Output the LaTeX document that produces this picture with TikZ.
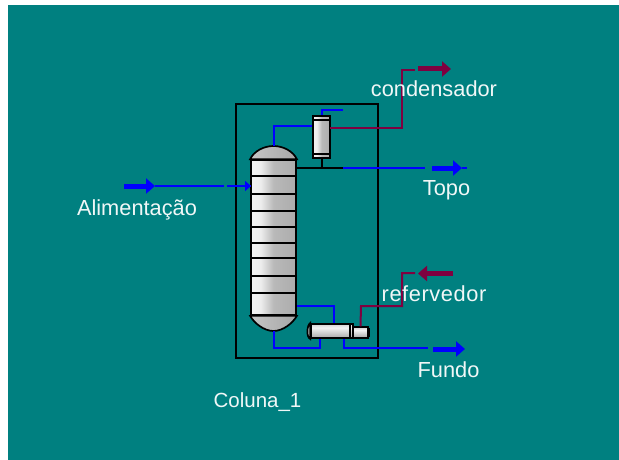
\documentclass[tikz,border=0pt]{standalone}
\usepackage{fontspec}
\setmainfont{Liberation Sans}
\usetikzlibrary{arrows.meta, calc}
\definecolor{fundo}{HTML}{008080}
\definecolor{corrente}{HTML}{0000FF}
\definecolor{utilidade}{HTML}{7F0040}
\pgfdeclarehorizontalshading{vaso}{100bp}{
  color(0bp)=(gray!75); color(22bp)=(white!92!gray); color(36bp)=(white!85!gray);
  color(50bp)=(gray!55); color(75bp)=(gray!65); color(100bp)=(gray!110!black)}
\pgfdeclareverticalshading{trocador}{100bp}{
  color(0bp)=(gray!70); color(30bp)=(gray!60); color(62bp)=(white!90!gray);
  color(100bp)=(gray!80)}
\tikzset{
  vessel/.style={rectangle, draw=black, line width=1.7pt, shading=vaso, inner sep=0pt},
  dome/.style={draw=black, line width=1.7pt, left color=gray!45, right color=gray!70},
  trayline/.style={draw=black, line width=1.7pt},
  hxbody/.style={rectangle, draw=black, line width=1.7pt, shading=trocador, inner sep=0pt},
  hxend/.style={draw=black, line width=1.7pt, fill=gray!40},
  blocobox/.style={rectangle, draw=black, line width=1.7pt, inner sep=0pt},
  procline/.style={draw=corrente, line width=2pt},
  utilline/.style={draw=utilidade, line width=2pt},
  liqline/.style={draw=black, line width=2pt},
  procarr/.style={draw=corrente, line width=5pt, -{Triangle[length=9pt, width=15pt]}},
  utilarr/.style={draw=utilidade, line width=5pt, -{Triangle[length=9pt, width=15pt]}},
  feedarr/.style={draw=corrente, line width=2.6pt, -{Triangle[length=6pt, width=10pt]}},
  lbl/.style={text=white!94!fundo, font=\fontsize{21.8}{25}\selectfont, anchor=base, inner sep=0pt},
}

\begin{document}
\begin{tikzpicture}[x=1pt, y=-1pt]

\useasboundingbox (0,0) rectangle (619,460);
\fill[white] (0,0) rectangle (619,460);
\fill[fundo] (8,5) rectangle (619,460);

\node[blocobox, minimum width=142.5pt, minimum height=254pt] (bloco) at (307,231) {};

\coordinate (domeTop) at (273.5,146);
\coordinate (domeBot) at (273.5,331);

% coluna
\node[vessel, minimum width=45pt, minimum height=155pt] (col) at (273.5,237.5) {};
\draw[dome] (col.north west) .. controls (254,151) and (264,146) .. (domeTop)
  .. controls (283,146) and (293,151) .. (col.north east) -- cycle;
\draw[dome] (col.south west) .. controls (254,323) and (264,331) .. (domeBot)
  .. controls (283,331) and (293,323) .. (col.south east) -- cycle;
\foreach \y in {176,194,211,227,243,258,276,293}{
  \draw[trayline] (col.west |- 0,\y) -- (col.east |- 0,\y);
}

% condensador
\node[hxbody, shading=vaso, minimum width=17pt, minimum height=42pt] (cond) at (321.7,137) {};
\draw[trayline] (313.2,120) -- (330.2,120);
\draw[trayline] (313.2,154) -- (330.2,154);

% refervedor
\node[hxbody, minimum width=42pt, minimum height=14pt] (ref) at (332,331) {};
\draw[hxend] (ref.north west) .. controls (307,325) and (306,337) .. (ref.south west) -- cycle;
\node[hxbody, minimum width=15pt, minimum height=10.5pt] (refcab) at (360.5,332.5) {};
\draw[line width=3pt] (368.5,328) -- (368.5,337);
\draw[trayline] (350,324) -- (350,338);

\coordinate (feedA) at (124,186);
\coordinate (feedB) at (155,186);
\coordinate (feedC) at (224,186);
\coordinate (feedD) at (227,186);
\coordinate (feedE) at (237,186);
\coordinate (feedF) at (251,186);

\coordinate (topA) at (273.5,126);
\coordinate (topB) at (343,168);
\coordinate (topC) at (425,168);
\coordinate (topD) at (432,168);
\coordinate (topE) at (462,168);
\coordinate (topF) at (467,168);
\coordinate (ventA) at (321.7,110);
\coordinate (ventB) at (343,110);
\coordinate (condOut) at (330,128.3);
\coordinate (cutA) at (415,70);
\coordinate (cutB) at (418,69);
\coordinate (cutC) at (451,69);

\coordinate (botA) at (273.5,348);
\coordinate (botB) at (320,348);
\coordinate (botC) at (344,348);
\coordinate (botD) at (428,348);
\coordinate (botE) at (433,349);
\coordinate (botF) at (465,349);
\coordinate (retA) at (334,306);
\coordinate (rebA) at (402,273);
\coordinate (rebB) at (415,273);
\coordinate (rebC) at (453,273.5);
\coordinate (rebD) at (418,273.5);

% correntes
\draw[procline] (feedB) -- (feedC);
\draw[procline] (feedD) -- (feedF);
\draw[procarr] (feedA) -- (feedB);
\draw[feedarr] (feedE) -- (feedF);

\draw[procline] (domeTop) -- (topA) -- (cond.west |- topA);
\draw[liqline] (col.east |- topB) -- (topB);
\draw[liqline] (cond.south) -- (cond.south |- topB);
\draw[procline] (topB) -- (topC);
\draw[procarr] (topD) -- (topE);
\draw[procline] (topE) -- (topF);
\draw[procline] (cond.north) -- (ventA) -- (ventB);
\draw[utilline] (condOut) -- (402,128.3) -- (402,70) -- (cutA);
\draw[utilarr] (cutB) -- (cutC);

\draw[procline] (col.east |- retA) -- (retA) -- (ref.north -| retA);
\draw[procline] (domeBot) -- (botA) -- (botB) -- (ref.south -| botB);
\draw[procline] (ref.south -| botC) -- (botC) -- (botD);
\draw[procarr] (botE) -- (botF);
\draw[utilline] (refcab.north) -- (361,306) -- (402,306) -- (rebA) -- (rebB);
\draw[utilarr] (rebC) -- (rebD);

% rotulos
\node[lbl] (lblCond) at (434,97) {condensador};
\node[lbl] (lblTopo) at (446.5,195) {Topo};
\node[lbl] (lblAlim) at (137,215) {Alimentação};
\node[lbl] (lblRef) at (434,301) {\addfontfeature{LetterSpace=2.7}refervedor};
\node[lbl, font=\fontsize{20.5}{24}\selectfont] (lblFundo) at (448.5,377) {\fontsize{21.8}{25}\selectfont Fundo};
\node[lbl, font=\fontsize{20.5}{24}\selectfont] (lblColuna) at (257.5,407) {Coluna\_1};

\end{tikzpicture}
\end{document}
